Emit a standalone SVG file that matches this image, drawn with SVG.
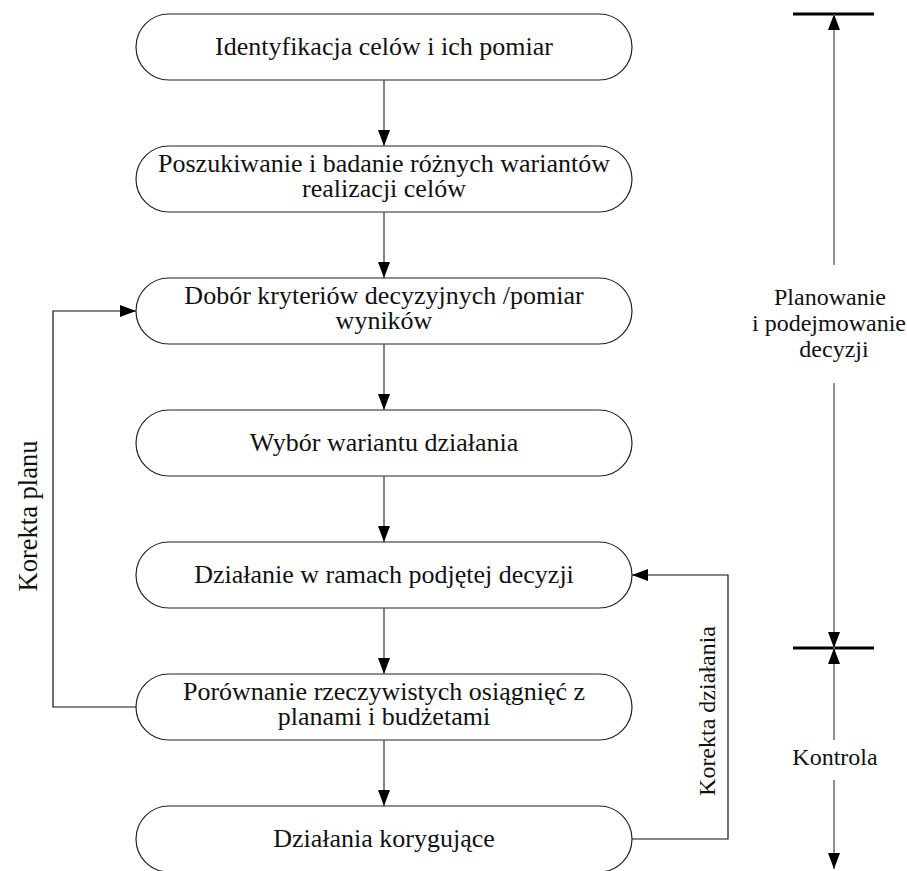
<svg xmlns="http://www.w3.org/2000/svg" width="907" height="871" viewBox="0 0 907 871">
<style>
.box{fill:#fff;stroke:#222;stroke-width:1.2}
.t{font-size:26px;fill:#111;text-anchor:middle}
.s{font-size:24px;fill:#111;text-anchor:middle}
.c{fill:none;stroke:#444;stroke-width:1.3}
.f{fill:none;stroke:#111;stroke-width:1.2}
.g{fill:none;stroke:#777;stroke-width:1.6}
.bar{stroke:#000;stroke-width:3}
</style>
<defs>
<marker id="ah" markerWidth="16" markerHeight="12" refX="16" refY="6" orient="auto" markerUnits="userSpaceOnUse">
<path d="M0,0 L16,6 L0,12 Z" fill="#000"/>
</marker>
</defs>
<g font-family="'Liberation Serif', 'Times New Roman', serif">
<g id="n1"><rect class="box" x="136" y="14" width="496" height="66" rx="33"/><text class="t" x="384" y="55">Identyfikacja celów i ich pomiar</text></g>
<g id="n2"><rect class="box" x="136" y="146" width="496" height="66" rx="33"/><text class="t" x="384" y="172">Poszukiwanie i badanie różnych wariantów</text><text class="t" x="384" y="197">realizacji celów</text></g>
<g id="n3"><rect class="box" x="136" y="278" width="496" height="66" rx="33"/><text class="t" x="384" y="304">Dobór kryteriów decyzyjnych /pomiar</text><text class="t" x="384" y="329">wyników</text></g>
<g id="n4"><rect class="box" x="136" y="410" width="496" height="66" rx="33"/><text class="t" x="384" y="451">Wybór wariantu działania</text></g>
<g id="n5"><rect class="box" x="136" y="542" width="496" height="66" rx="33"/><text class="t" x="384" y="583">Działanie w ramach podjętej decyzji</text></g>
<g id="n6"><rect class="box" x="136" y="674" width="496" height="66" rx="33"/><text class="t" x="384" y="700">Porównanie rzeczywistych osiągnięć z</text><text class="t" x="384" y="725">planami i budżetami</text></g>
<g id="n7"><rect class="box" x="136" y="806" width="496" height="66" rx="33"/><text class="t" x="384" y="847">Działania korygujące</text></g>
<g id="connectors">
<line class="c" x1="384" y1="80" x2="384" y2="146" marker-end="url(#ah)"/>
<line class="c" x1="384" y1="212" x2="384" y2="278" marker-end="url(#ah)"/>
<line class="c" x1="384" y1="344" x2="384" y2="410" marker-end="url(#ah)"/>
<line class="c" x1="384" y1="476" x2="384" y2="542" marker-end="url(#ah)"/>
<line class="c" x1="384" y1="608" x2="384" y2="674" marker-end="url(#ah)"/>
<line class="c" x1="384" y1="740" x2="384" y2="806" marker-end="url(#ah)"/>
<polyline class="f" points="136,707 53,707 53,311 136,311" marker-end="url(#ah)"/>
<polyline class="f" points="632,839 728,839 728,575 632,575" marker-end="url(#ah)"/>
</g>
<g id="labels">
<text class="s" style="font-size:26.5px" transform="translate(37,516) rotate(-90)">Korekta planu</text>
<text class="s" transform="translate(715,711) rotate(-90)">Korekta działania</text>
</g>
<g id="scale">
<line class="bar" x1="793" y1="14" x2="874" y2="14"/>
<line class="bar" x1="793" y1="648" x2="874" y2="648"/>
<line class="g" x1="834" y1="265" x2="834" y2="14" marker-end="url(#ah)"/>
<line class="g" x1="834" y1="383" x2="834" y2="648" marker-end="url(#ah)"/>
<line class="g" x1="834" y1="740" x2="834" y2="648" marker-end="url(#ah)"/>
<line class="g" x1="834" y1="780" x2="834" y2="869" marker-end="url(#ah)"/>
<text class="s" x="830" y="305">Planowanie</text>
<text class="s" x="829" y="331">i podejmowanie</text>
<text class="s" x="834" y="357">decyzji</text>
<text class="s" x="835" y="765">Kontrola</text>
</g>
</g>
</svg>
